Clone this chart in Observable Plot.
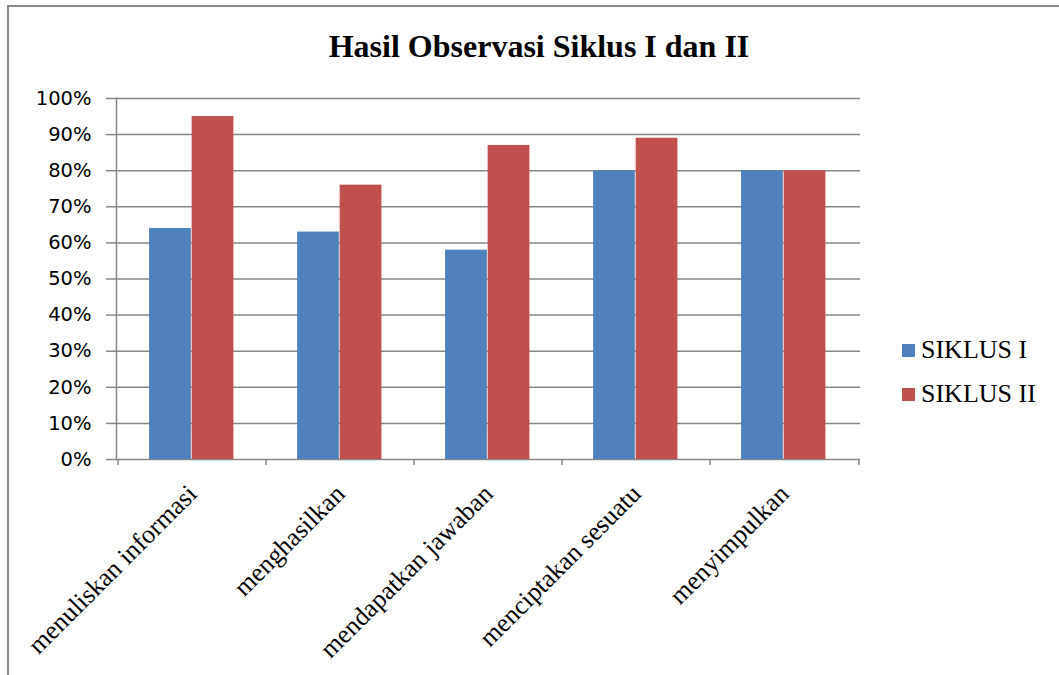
<!DOCTYPE html>
<html>
<head>
<meta charset="utf-8">
<script src="https://cdn.jsdelivr.net/npm/d3@7"></script>
<script src="https://cdn.jsdelivr.net/npm/@observablehq/plot@0.6"></script>
<style>
  html, body { margin: 0; padding: 0; background: #fff; overflow: hidden; }
  #page { position: relative; width: 1059px; height: 675px; overflow: hidden; }
  #border { position: absolute; left: 7px; top: 5px; width: 1200px; height: 800px;
            border-left: 2px solid #898989; border-top: 2px solid #898989; }
  #title { position: absolute; left: 0; top: 30px; width: 1078px; text-align: center;
           font: bold 32px/32px "Liberation Serif", "Times New Roman", serif; color: #000; }
  #chart { position: absolute; left: 0; top: 75px; }
  .key { position: absolute; width: 13px; height: 13px; }
  .keytext { position: absolute; font: 26px/26px "Liberation Serif", "Times New Roman", serif; color: #000; white-space: nowrap; }
</style>
</head>
<body>
<div id="page">
  <div id="border"></div>
  <div id="title">Hasil Observasi Siklus I dan II</div>
  <div id="chart"></div>
  <div id="legend"></div>
</div>
<script>
// Observation results per indicator, in percent
const categories = ["menuliskan informasi", "menghasilkan", "mendapatkan jawaban", "menciptakan sesuatu", "menyimpulkan"];
const seriesNames = ["SIKLUS I", "SIKLUS II"];
const siklus1 = [64, 63, 58, 80, 80];
const siklus2 = [95, 76, 87, 89, 80];
const yTicks = [0, 10, 20, 30, 40, 50, 60, 70, 80, 90, 100];
const colors = ["#4F81BD", "#C0504D"];

const rows1 = categories.map((c, i) => ({cat: c, val: siklus1[i]}));
const rows2 = categories.map((c, i) => ({cat: c, val: siklus2[i]}));

const width = 1059, height = 600;
const marginLeft = 116, marginRight = 199, marginTop = 23, marginBottom = 216;
const step = (width - marginLeft - marginRight) / categories.length;
const gridColor = "#878787";
const serif = "'Liberation Serif', 'Times New Roman', serif";

const chart = Plot.plot({
  width, height, marginLeft, marginRight, marginTop, marginBottom,
  style: {background: "transparent", color: "#000", overflow: "visible"},
  x: {domain: categories, padding: 0, axis: null},
  y: {domain: [0, 100], axis: null},
  marks: [
    Plot.gridY(yTicks, {stroke: gridColor, strokeOpacity: 1, strokeWidth: 1.5}),
    Plot.axisY(yTicks, {
      tickSize: 10, tickPadding: 15, stroke: gridColor, strokeWidth: 1.5,
      tickFormat: d => d + "%", label: null,
      fontSize: 19.5, fontFamily: "'DejaVu Sans', sans-serif"
    }),
    Plot.frame({anchor: "left", stroke: gridColor, strokeWidth: 1.5}),
    // category boundary ticks below the baseline
    Plot.axisX(categories, {tickSize: 6, tickFormat: () => "", stroke: gridColor, strokeWidth: 1.5, dx: -step / 2, label: null}),
    Plot.axisX(categories.slice(-1), {tickSize: 6, tickFormat: () => "", stroke: gridColor, strokeWidth: 1.5, dx: step / 2, label: null}),
    Plot.barY(rows1, {x: "cat", y: "val", fill: colors[0],
      insetLeft: step * 0.209, insetRight: step * (1 - 0.495)}),
    Plot.barY(rows2, {x: "cat", y: "val", fill: colors[1],
      insetLeft: step * 0.495, insetRight: step * (1 - 0.781)}),
    Plot.axisX({
      tickSize: 0, tickPadding: 30, tickRotate: -45, label: null,
      fontSize: 26, fontFamily: serif
    })
  ]
});
document.getElementById("chart").appendChild(chart);

// legend
const legend = document.getElementById("legend");
const legendTops = [337, 381];
seriesNames.forEach((name, i) => {
  const sw = document.createElement("div");
  sw.className = "key";
  sw.style.left = "902px";
  sw.style.top = (legendTops[i] + 7) + "px";
  sw.style.background = colors[i];
  legend.appendChild(sw);
  const t = document.createElement("div");
  t.className = "keytext";
  t.style.left = "921px";
  t.style.top = legendTops[i] + "px";
  t.textContent = name;
  legend.appendChild(t);
});
</script>
</body>
</html>
